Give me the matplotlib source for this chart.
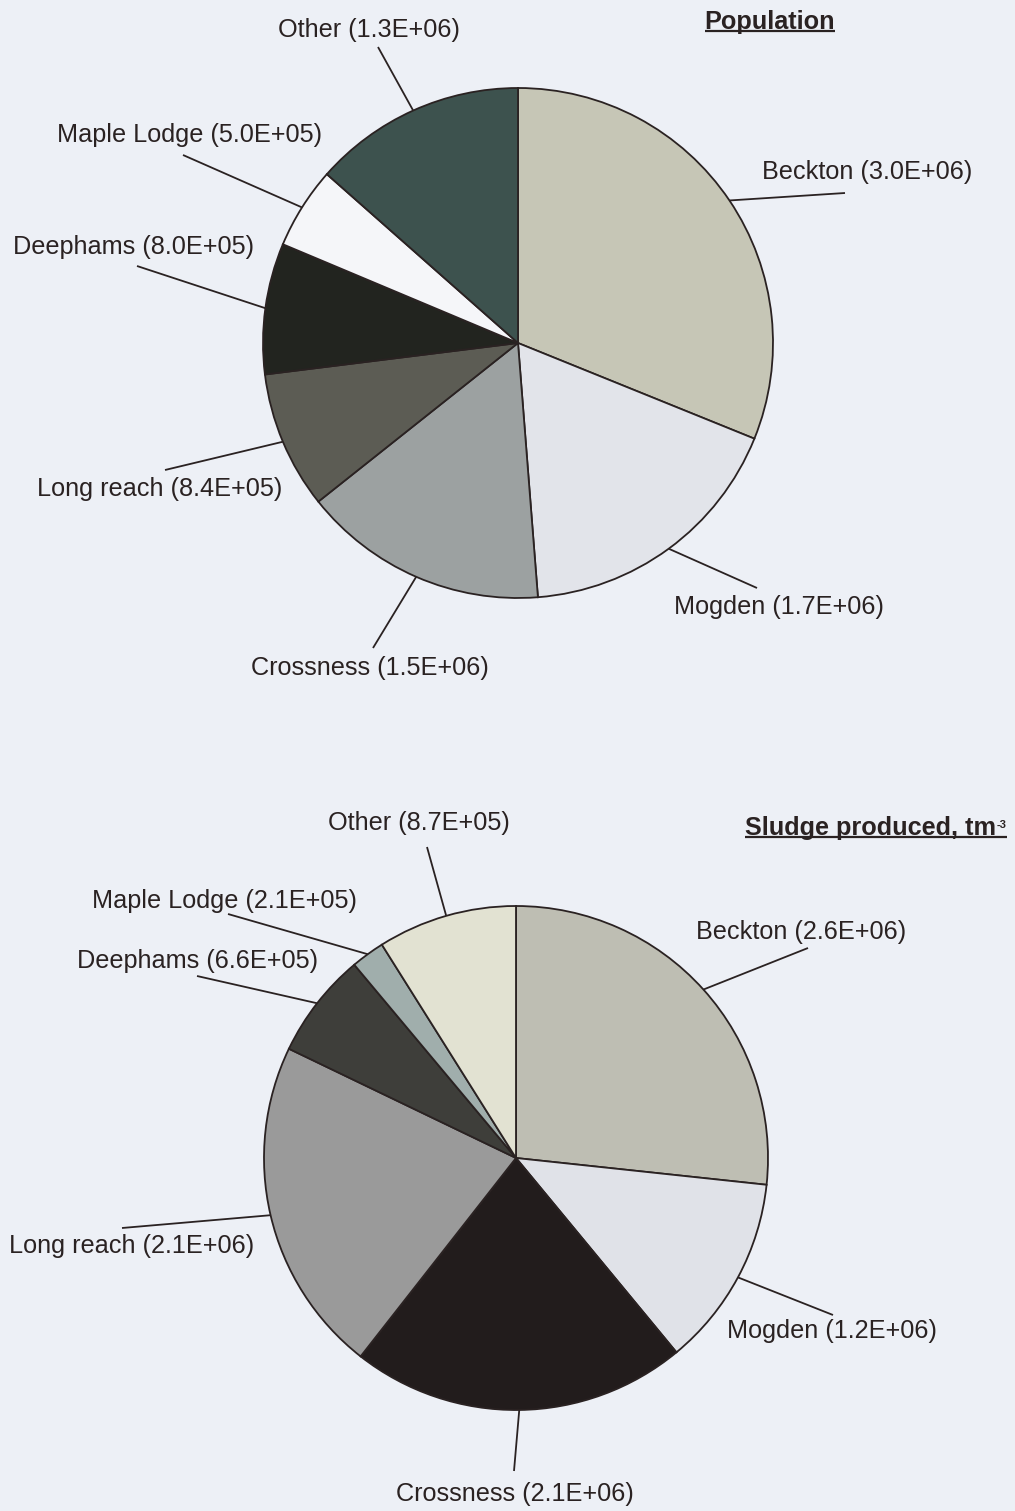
import numpy as np
import matplotlib
matplotlib.use("Agg")
import matplotlib.pyplot as plt

# --- data -------------------------------------------------------------
works = ["Beckton", "Mogden", "Crossness", "Long reach", "Deephams", "Maple Lodge", "Other"]
population = [3.0e6, 1.7e6, 1.5e6, 8.4e5, 8.0e5, 5.0e5, 1.3e6]
sludge = [2.6e6, 1.2e6, 2.1e6, 2.1e6, 6.6e5, 2.1e5, 8.7e5]

pop_colors = ["#c6c6b6", "#e2e4ea", "#9ca1a1", "#5c5c54", "#22241f", "#f5f6f9", "#3d524e"]
sludge_colors = ["#bebeb3", "#e0e2e8", "#221c1c", "#9a9a9a", "#3e3e3a", "#a0aeac", "#e2e2d2"]

# --- layout (pixel units, origin top-left) ----------------------------
W, H = 1015, 1511
BG = "#edf0f6"
INK = "#2a2222"
FONT = "Liberation Sans"
FS = 18.2

pop_center, pop_radius = (518, 343), 255
sludge_center, sludge_radius = (516, 1158), 252

pop_text_pos = [(867, 172), (779, 607), (370, 668), (160, 489), (134, 247), (190, 135), (369, 30)]
pop_line_end = [(845, 193), (757, 588), (373, 648), (165, 470), (137, 266), (183, 155), (378, 47)]
sludge_text_pos = [(801, 932), (832, 1331), (515, 1494), (132, 1246), (198, 961), (225, 901), (419, 823)]
sludge_line_end = [(808, 948), (833, 1315), (514, 1471), (122, 1228), (197, 976), (228, 914), (427, 847)]


def flip(p):
    return (p[0], H - p[1])


fig = plt.figure(figsize=(W / 100, H / 100), dpi=100, facecolor=BG)
ax = fig.add_axes([0, 0, 1, 1])
ax.set_facecolor(BG)


def draw_pie(values, colors, center, radius, text_pos, line_end):
    c = flip(center)
    wedges, _ = ax.pie(values, colors=colors, startangle=90, counterclock=False,
                       center=c, radius=radius, frame=True,
                       wedgeprops=dict(edgecolor=INK, linewidth=1.3))
    for w, name, val, tp, le in zip(wedges, works, values, text_pos, line_end):
        mid = np.deg2rad((w.theta1 + w.theta2) / 2)
        inner = (c[0] + radius * np.cos(mid), c[1] + radius * np.sin(mid))
        outer = flip(le)
        ax.plot([inner[0], outer[0]], [inner[1], outer[1]], color=INK, lw=1.3,
                solid_capstyle="butt")
        tx, ty = flip(tp)
        ax.text(tx, ty, f"{name} ({val:.1E})", ha="center", va="center",
                fontsize=FS, family=FONT, color=INK)


draw_pie(population, pop_colors, pop_center, pop_radius, pop_text_pos, pop_line_end)
draw_pie(sludge, sludge_colors, sludge_center, sludge_radius, sludge_text_pos, sludge_line_end)

ax.set_xlim(0, W)
ax.set_ylim(0, H)
ax.set_aspect("equal")
ax.axis("off")

# --- underlined bold titles --------------------------------------------
t1 = ax.text(770, H - 22, "Population", ha="center", va="center",
             fontsize=FS, family=FONT, weight="bold", color=INK)
t2 = ax.text(745, H - 828, "Sludge produced, tm", ha="left", va="center",
             fontsize=FS, family=FONT, weight="bold", color=INK)

fig.canvas.draw()
renderer = fig.canvas.get_renderer()
inv = ax.transData.inverted()

bb2 = t2.get_window_extent(renderer)
x2, y2 = inv.transform((bb2.x1, bb2.y1))
sup = ax.text(x2 + 1, y2 - 4, "-3", ha="left", va="top", fontsize=8,
              family=FONT, weight="bold", color=INK)
fig.canvas.draw()
bbs = sup.get_window_extent(renderer)
xs_end, _ = inv.transform((bbs.x1, bbs.y1))

for t, x_end in ((t1, None), (t2, xs_end)):
    bb = t.get_window_extent(renderer)
    (xa, ya), (xb, _) = inv.transform((bb.x0, bb.y0)), inv.transform((bb.x1, bb.y0))
    if x_end is not None:
        xb = x_end
    ax.plot([xa, xb], [ya + 3, ya + 3], color=INK, lw=1.6, solid_capstyle="butt")

fig.savefig("out.png", dpi=100, facecolor=BG)
